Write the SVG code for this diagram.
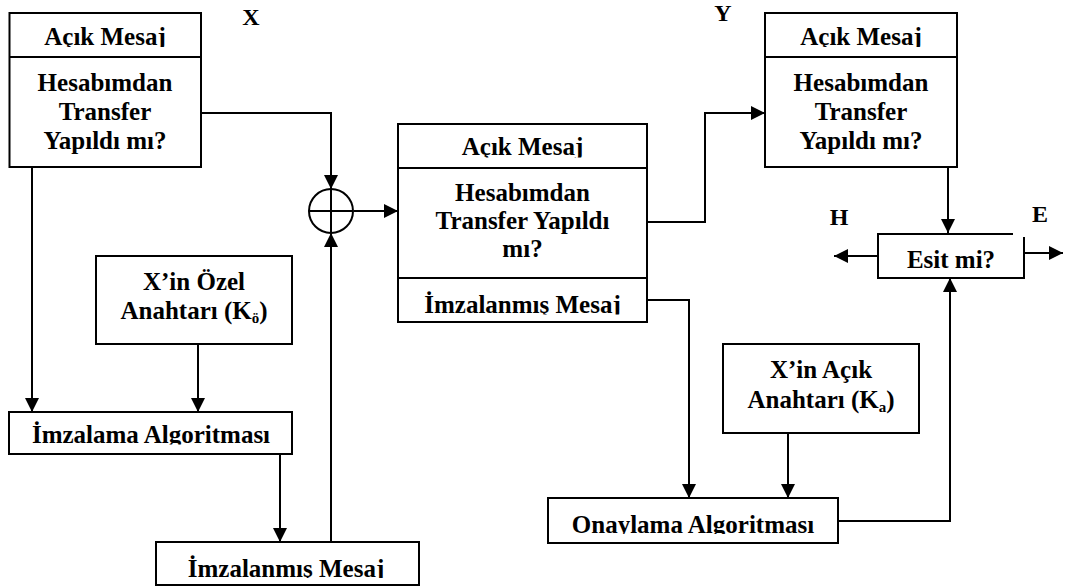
<svg xmlns="http://www.w3.org/2000/svg" width="1066" height="588" viewBox="0 0 1066 588">
  <style>
    .box { fill: #ffffff; stroke: #000000; stroke-width: 2; }
    .line { fill: none; stroke: #000000; stroke-width: 2; }
  </style>
  <defs>
    <marker id="arrow" markerUnits="userSpaceOnUse" markerWidth="14" markerHeight="14" refX="14" refY="7" orient="auto">
      <path d="M0,0 L14,7 L0,14 z" fill="#000000"/>
    </marker>
    <!-- single-line labels are cut just under their baseline by their text frames -->
    <clipPath id="clipMsgL" clipPathUnits="userSpaceOnUse"><rect x="0" y="20" width="220" height="27"/></clipPath>
    <clipPath id="clipMsgR" clipPathUnits="userSpaceOnUse"><rect x="760" y="20" width="210" height="27"/></clipPath>
    <clipPath id="clipMsgC" clipPathUnits="userSpaceOnUse"><rect x="398" y="130" width="250" height="27.5"/></clipPath>
    <clipPath id="clipSigC" clipPathUnits="userSpaceOnUse"><rect x="398" y="285" width="250" height="29.5"/></clipPath>
    <clipPath id="clipSign" clipPathUnits="userSpaceOnUse"><rect x="9" y="415" width="283" height="29.5"/></clipPath>
    <clipPath id="clipSigB" clipPathUnits="userSpaceOnUse"><rect x="156" y="548" width="263" height="30"/></clipPath>
    <clipPath id="clipVer" clipPathUnits="userSpaceOnUse"><rect x="548" y="503" width="290" height="31"/></clipPath>
  </defs>

  <!-- connectors -->
  <g id="connectors">
    <polyline class="line" points="201,113 331,113 331,189" marker-end="url(#arrow)"/>
    <line class="line" x1="354" y1="211" x2="398" y2="211" marker-end="url(#arrow)"/>
    <line class="line" x1="331" y1="542" x2="331" y2="233" marker-end="url(#arrow)"/>
    <line class="line" x1="32" y1="167" x2="32" y2="412" marker-end="url(#arrow)"/>
    <line class="line" x1="198" y1="344" x2="198" y2="412" marker-end="url(#arrow)"/>
    <line class="line" x1="280" y1="454" x2="280" y2="542" marker-end="url(#arrow)"/>
    <polyline class="line" points="647,222 705,222 705,113 765,113" marker-end="url(#arrow)"/>
    <polyline class="line" points="647,300 689,300 689,498" marker-end="url(#arrow)"/>
    <line class="line" x1="788" y1="433" x2="788" y2="498" marker-end="url(#arrow)"/>
    <polyline class="line" points="838,521 950,521 950,278" marker-end="url(#arrow)"/>
    <line class="line" x1="948" y1="167" x2="948" y2="233" marker-end="url(#arrow)"/>
    <line class="line" x1="878" y1="256" x2="834" y2="256" marker-end="url(#arrow)"/>
    <line class="line" x1="1024" y1="253" x2="1063" y2="253" marker-end="url(#arrow)"/>
  </g>

  <!-- XOR combiner -->
  <g id="xor">
    <circle class="line" cx="331" cy="211" r="22"/>
    <line class="line" x1="309" y1="211" x2="353" y2="211"/>
    <line class="line" x1="331" y1="189" x2="331" y2="233"/>
  </g>

  <g font-family="Liberation Serif, Times New Roman, serif" font-weight="bold" font-size="25" fill="#000000" text-anchor="middle">
    <!-- side labels -->
    <g id="labels" font-size="24">
      <text x="251" y="25">X</text>
      <text x="723" y="21">Y</text>
      <text x="839" y="225">H</text>
      <text x="1040" y="222">E</text>
    </g>

    <!-- sender's plain message -->
    <g id="sender-message">
      <rect class="box" x="9.5" y="13" width="191.5" height="154"/>
      <line class="line" x1="9.5" y1="57" x2="201" y2="57"/>
      <text x="105" y="45" clip-path="url(#clipMsgL)">Açık Mesaj</text>
      <text x="105" y="91">Hesabımdan</text>
      <text x="105" y="120">Transfer</text>
      <text x="105" y="149">Yapıldı mı?</text>
    </g>

    <!-- private key -->
    <g id="private-key">
      <rect class="box" x="96" y="256" width="196" height="88"/>
      <text x="194" y="290">X’in Özel</text>
      <text x="194" y="319">Anahtarı (K<tspan font-size="15" dy="4">ö</tspan><tspan dy="-4">)</tspan></text>
    </g>

    <!-- signing algorithm -->
    <g id="signing">
      <rect class="box" x="9" y="412" width="283" height="42"/>
      <text x="151" y="443" clip-path="url(#clipSign)">İmzalama Algoritması</text>
    </g>

    <!-- signed message produced by sender -->
    <g id="signed-message">
      <rect class="box" x="156" y="542" width="263" height="43"/>
      <text x="286" y="577" clip-path="url(#clipSigB)">İmzalanmış Mesaj</text>
    </g>

    <!-- transmitted package -->
    <g id="package">
      <rect class="box" x="398" y="124" width="249" height="198"/>
      <line class="line" x1="398" y1="168" x2="647" y2="168"/>
      <line class="line" x1="398" y1="278" x2="647" y2="278"/>
      <text x="522.5" y="155" clip-path="url(#clipMsgC)">Açık Mesaj</text>
      <text x="522.5" y="201">Hesabımdan</text>
      <text x="522.5" y="229">Transfer Yapıldı</text>
      <text x="522.5" y="257">mı?</text>
      <text x="522.5" y="313" clip-path="url(#clipSigC)">İmzalanmış Mesaj</text>
    </g>

    <!-- receiver's plain message -->
    <g id="receiver-message">
      <rect class="box" x="765" y="13" width="192" height="154"/>
      <line class="line" x1="765" y1="57" x2="957" y2="57"/>
      <text x="861" y="45" clip-path="url(#clipMsgR)">Açık Mesaj</text>
      <text x="861" y="91">Hesabımdan</text>
      <text x="861" y="120">Transfer</text>
      <text x="861" y="149">Yapıldı mı?</text>
    </g>

    <!-- comparison -->
    <g id="compare">
      <rect x="878" y="234" width="146" height="44" fill="#ffffff"/>
      <path class="line" d="M1013,234 L878,234 L878,278 L1024,278 L1024,237"/>
      <text x="951" y="268">Esit mi?</text>
    </g>

    <!-- public key -->
    <g id="public-key">
      <rect class="box" x="723" y="344" width="196" height="89"/>
      <text x="821" y="378">X’in Açık</text>
      <text x="821" y="408">Anahtarı (K<tspan font-size="15" dy="4">a</tspan><tspan dy="-4">)</tspan></text>
    </g>

    <!-- verification algorithm -->
    <g id="verification">
      <rect class="box" x="548" y="498" width="290" height="45"/>
      <text x="693" y="533" clip-path="url(#clipVer)">Onaylama Algoritması</text>
    </g>
  </g>
</svg>
